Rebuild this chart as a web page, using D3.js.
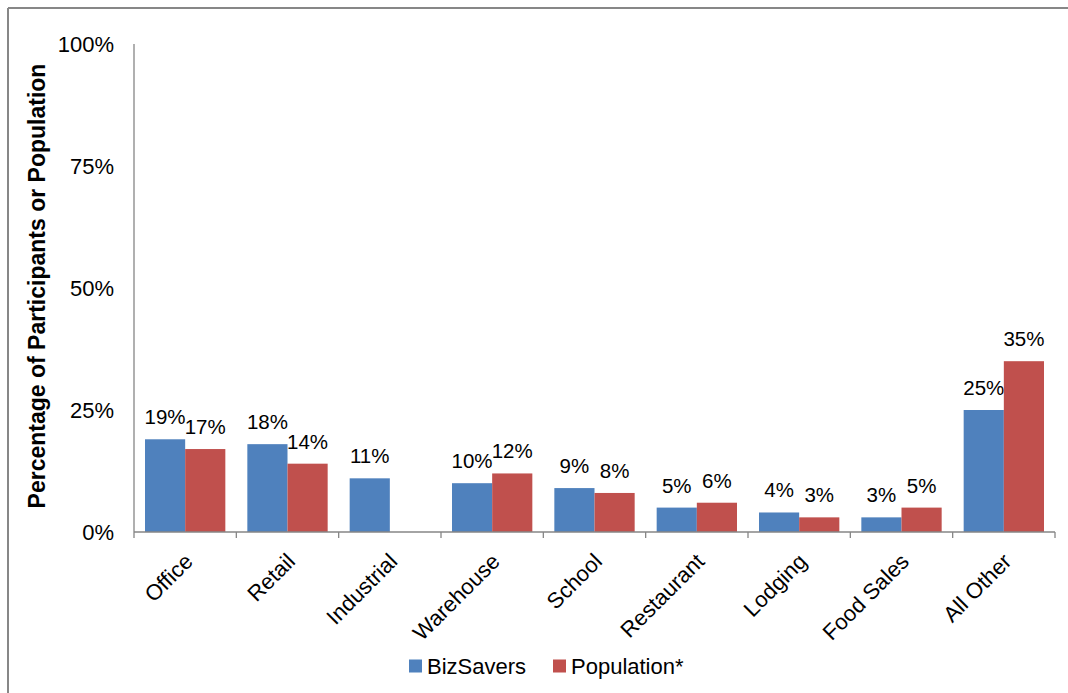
<!DOCTYPE html>
<html>
<head>
<meta charset="utf-8">
<script src="https://cdn.jsdelivr.net/npm/d3@7"></script>
<style>
  html, body { margin: 0; padding: 0; background: #fff; }
  svg { display: block; font-family: "Liberation Sans", Arial, sans-serif; }
</style>
</head>
<body>
<svg id="chart" width="1068" height="693"></svg>
<script>
// Building types and share of participants vs. population
const categories = ["Office", "Retail", "Industrial", "Warehouse", "School", "Restaurant", "Lodging", "Food Sales", "All Other"];
const bizSavers = [19, 18, 11, 10, 9, 5, 4, 3, 25];
const population = [17, 14, null, 12, 8, 6, 3, 5, 35];
const seriesNames = ["BizSavers", "Population*"];
const seriesColors = ["#4F81BD", "#C0504D"];
const yTicks = [0, 25, 50, 75, 100];

const svg = d3.select("#chart");
const W = 1068, H = 693;

// chart frame (top and left edges visible)
svg.append("line").attr("x1", 8).attr("x2", W).attr("y1", 8).attr("y2", 8)
  .attr("stroke", "#878787").attr("stroke-width", 2);
svg.append("line").attr("x1", 8).attr("x2", 8).attr("y1", 8).attr("y2", H)
  .attr("stroke", "#878787").attr("stroke-width", 2);

const plot = { left: 134, right: 1055, top: 44, bottom: 532 };

const x = d3.scaleBand().domain(categories).range([plot.left, plot.right]).paddingInner(0.215).paddingOuter(0.1075);
const x1 = d3.scaleBand().domain(seriesNames).range([0, x.bandwidth()]);
const y = d3.scaleLinear().domain([0, 100]).range([plot.bottom, plot.top]);

const series = seriesNames.map((name, i) => ({
  name, color: seriesColors[i],
  values: categories.map((c, j) => ({ cat: c, v: (i === 0 ? bizSavers : population)[j] }))
}));

// y axis line and labels
svg.append("line").attr("x1", plot.left).attr("x2", plot.left)
  .attr("y1", y(100)).attr("y2", y(0)).attr("stroke", "#868686").attr("stroke-width", 1.3);
svg.append("g").selectAll("text").data(yTicks).join("text")
  .attr("x", plot.left - 20).attr("y", d => y(d)).attr("dy", "0.36em")
  .attr("text-anchor", "end").attr("font-size", 22).attr("fill", "#000")
  .text(d => d + "%");

// bars
const groups = svg.append("g").selectAll("g").data(series).join("g").attr("fill", d => d.color);
groups.selectAll("rect").data(d => d.values.filter(v => v.v != null).map(v => ({ ...v, s: d.name })))
  .join("rect")
  .attr("x", d => x(d.cat) + x1(d.s))
  .attr("width", x1.bandwidth())
  .attr("y", d => y(d.v))
  .attr("height", d => y(0) - y(d.v));

// value labels
groups.selectAll("text").data(d => d.values.filter(v => v.v != null).map(v => ({ ...v, s: d.name })))
  .join("text")
  .attr("x", d => x(d.cat) + x1(d.s) + x1.bandwidth() / 2)
  .attr("y", d => y(d.v) - 15)
  .attr("text-anchor", "middle").attr("font-size", 20.5).attr("fill", "#000")
  .text(d => d.v + "%");

// x axis
const xAxis = svg.append("g");
xAxis.append("line").attr("x1", plot.left).attr("x2", plot.right)
  .attr("y1", plot.bottom).attr("y2", plot.bottom).attr("stroke", "#868686").attr("stroke-width", 1.3);
const step = x.step();
const tickXs = d3.range(categories.length + 1).map(i => plot.left + i * step);
xAxis.selectAll("line.tick").data(tickXs).join("line").attr("class", "tick")
  .attr("x1", d => d).attr("x2", d => d).attr("y1", plot.bottom).attr("y2", plot.bottom + 6)
  .attr("stroke", "#868686").attr("stroke-width", 1.3);
xAxis.selectAll("text").data(categories).join("text")
  .attr("transform", d => `translate(${x(d) + x.bandwidth() / 2 - 2},${plot.bottom + 20}) rotate(-45)`)
  .attr("text-anchor", "end").attr("dy", "0.7em")
  .attr("font-size", 22).attr("fill", "#000")
  .text(d => d);

// y axis title
svg.append("text")
  .attr("transform", `translate(37,${(plot.top + plot.bottom) / 2 - 2}) rotate(-90)`)
  .attr("text-anchor", "middle").attr("dy", "0.36em")
  .attr("font-size", 23).attr("font-weight", "bold").attr("fill", "#000")
  .text("Percentage of Participants or Population");

// legend
const legendItems = [{ x: 409 }, { x: 553 }];
const legend = svg.append("g");
series.forEach((s, i) => {
  const g = legend.append("g").attr("transform", `translate(${legendItems[i].x},666)`);
  g.append("rect").attr("x", 0).attr("y", -6.5).attr("width", 13).attr("height", 13).attr("fill", s.color);
  g.append("text").attr("x", 18).attr("y", 0).attr("dy", "0.36em")
    .attr("font-size", 22).attr("fill", "#000").text(s.name);
});
</script>
</body>
</html>
